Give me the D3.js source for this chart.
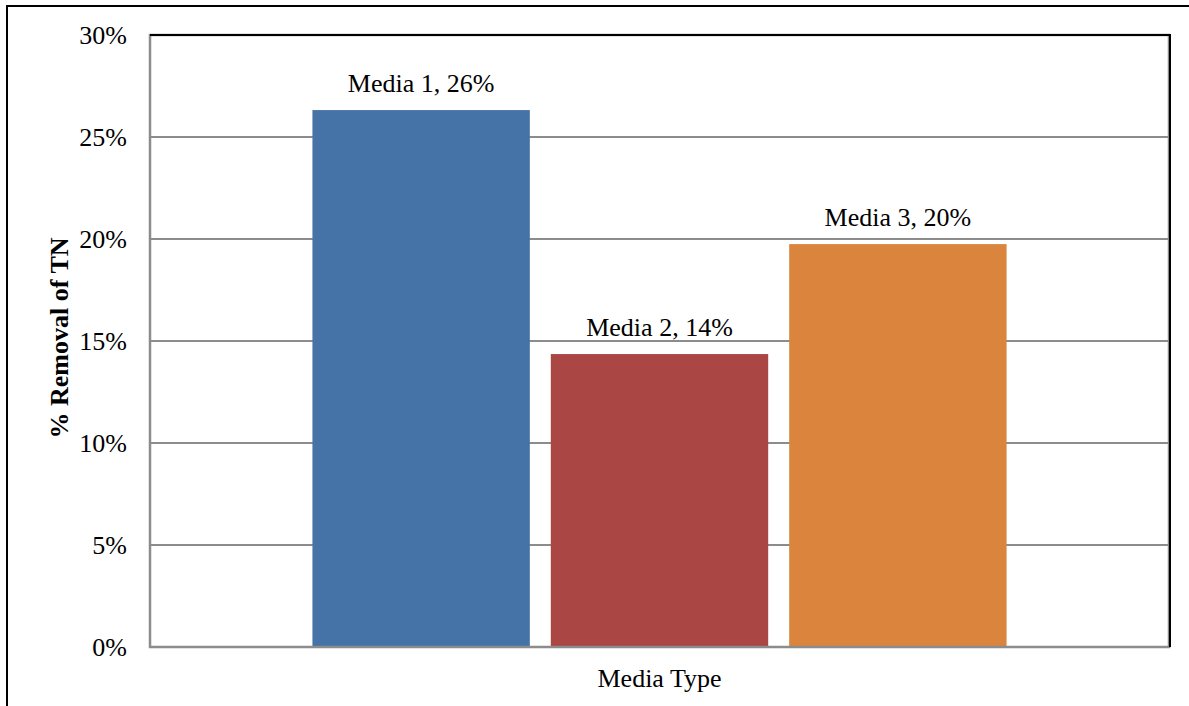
<!DOCTYPE html>
<html>
<head>
<meta charset="utf-8">
<script src="https://cdn.jsdelivr.net/npm/d3@7"></script>
<style>
  html, body { margin: 0; padding: 0; background: #fff; }
  svg { display: block; }
  text { font-family: "Liberation Serif", "Times New Roman", serif; fill: #000; }
</style>
</head>
<body>
<svg id="chart" width="1189" height="706"></svg>
<script>
// ---- data ----
const categories = ["Media Type"];
const seriesNames = ["Media 1", "Media 2", "Media 3"];
const seriesValues = [0.2632, 0.1436, 0.1975];
const seriesLabels = ["26%", "14%", "20%"];
const seriesColors = ["#4572A7", "#AA4643", "#DB843D"];
const yTicks = [0, 0.05, 0.10, 0.15, 0.20, 0.25, 0.30];

// ---- layout ----
const W = 1189, H = 706;
const plot = { left: 150, top: 35, right: 1169, bottom: 647 };
const svg = d3.select("#chart");

// outer chart border (cut off at right and bottom)
svg.append("rect")
  .attr("x", 7).attr("y", 6)
  .attr("width", W + 10).attr("height", H + 10)
  .attr("fill", "#fff").attr("stroke", "#000").attr("stroke-width", 2);

const y = d3.scaleLinear().domain([0, 0.30]).range([plot.bottom, plot.top]);
const x0 = d3.scaleBand().domain(categories).range([plot.left, plot.right])
  .paddingInner(0).paddingOuter(0.234);
const x1 = d3.scaleBand().domain(seriesNames).range([0, x0.bandwidth()])
  .paddingInner(0.088).paddingOuter(0);

// gridlines
svg.append("g").selectAll("line")
  .data(yTicks.filter(t => t > 0 && t < 0.30))
  .join("line")
  .attr("x1", plot.left).attr("x2", plot.right)
  .attr("y1", d => y(d)).attr("y2", d => y(d))
  .attr("stroke", "#8c8c8c").attr("stroke-width", 2);

// bars
const g = svg.append("g");
categories.forEach(cat => {
  seriesNames.forEach((s, i) => {
    const bx = x0(cat) + x1(s);
    g.append("rect")
      .attr("x", bx).attr("y", y(seriesValues[i]))
      .attr("width", x1.bandwidth())
      .attr("height", y(0) - y(seriesValues[i]))
      .attr("fill", seriesColors[i]);
    g.append("text")
      .attr("x", bx + x1.bandwidth() / 2)
      .attr("y", y(seriesValues[i]) - 18)
      .attr("text-anchor", "middle")
      .style("font-size", "26px")
      .text(s + ", " + seriesLabels[i]);
  });
});

// plot frame
svg.append("rect")
  .attr("x", plot.left).attr("y", plot.top)
  .attr("width", plot.right - plot.left).attr("height", plot.bottom - plot.top)
  .attr("fill", "none").attr("stroke", "#8c8c8c").attr("stroke-width", 2.5);
svg.append("path")
  .attr("d", `M${plot.left},${plot.top} H${plot.right + 1} V${plot.bottom}`)
  .attr("fill", "none").attr("stroke", "#000").attr("stroke-width", 2);

// y axis
const yAxis = d3.axisLeft(y).tickValues(yTicks).tickFormat(d3.format(".0%")).tickSize(0).tickPadding(23);
const ya = svg.append("g").attr("transform", `translate(${plot.left},0)`).call(yAxis);
ya.select(".domain").remove();
ya.selectAll("text").style("font-size", "26px").style("font-family", '"Liberation Serif", serif').attr("fill", "#000");

// axis titles
svg.append("text")
  .attr("transform", `translate(68,338) rotate(-90)`)
  .attr("text-anchor", "middle")
  .style("font-size", "26px").style("font-weight", "bold")
  .text("% Removal of TN");

svg.append("text")
  .attr("x", (plot.left + plot.right) / 2).attr("y", 687)
  .attr("text-anchor", "middle")
  .style("font-size", "26px")
  .text(categories[0]);
</script>
</body>
</html>
